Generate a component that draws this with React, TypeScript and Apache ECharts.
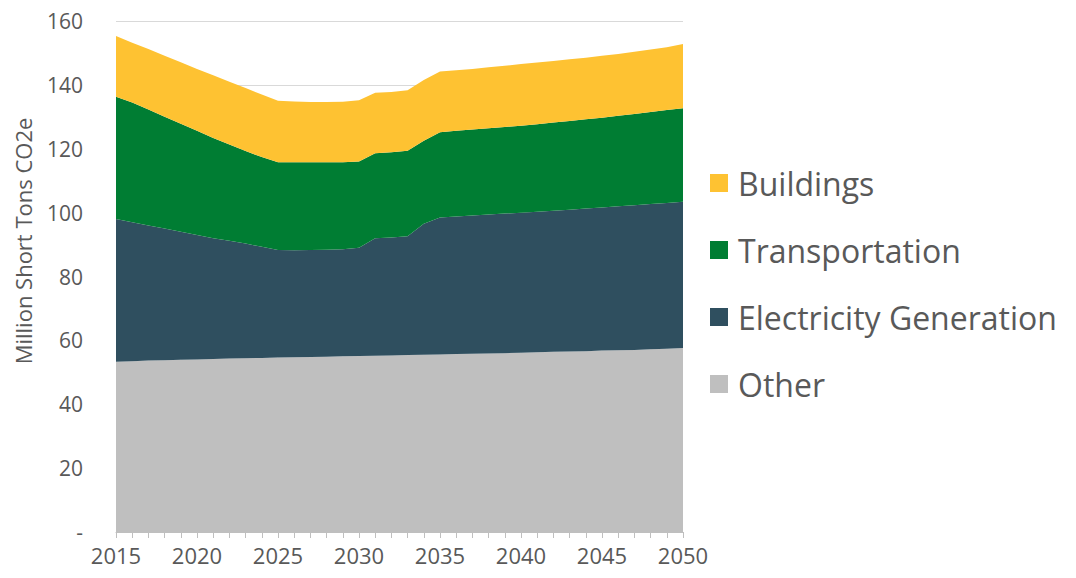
import React, { useEffect, useRef } from "react";
import * as echarts from "echarts";

const years = [
  "2015", "2016", "2017", "2018", "2019", "2020", "2021", "2022", "2023", "2024",
  "2025", "2026", "2027", "2028", "2029", "2030", "2031", "2032", "2033", "2034",
  "2035", "2036", "2037", "2038", "2039", "2040", "2041", "2042", "2043", "2044",
  "2045", "2046", "2047", "2048", "2049", "2050",
];

const other = [
  53.3, 53.5, 53.7, 53.8, 53.9, 54.0, 54.2, 54.3, 54.4, 54.5,
  54.6, 54.7, 54.8, 54.9, 55.0, 55.1, 55.2, 55.3, 55.4, 55.5,
  55.6, 55.7, 55.8, 55.9, 56.0, 56.1, 56.3, 56.4, 56.5, 56.6,
  56.8, 56.9, 57.0, 57.2, 57.4, 57.6,
];

const electricity = [
  44.7, 43.5, 42.3, 41.2, 40.1, 39.0, 37.8, 36.9, 35.9, 34.8,
  33.7, 33.5, 33.5, 33.5, 33.5, 33.9, 36.8, 36.9, 37.2, 41.0,
  42.9, 43.1, 43.3, 43.5, 43.7, 43.9, 44.0, 44.2, 44.4, 44.7,
  44.8, 45.1, 45.3, 45.5, 45.6, 45.8,
];

const transportation = [
  38.3, 37.5, 36.3, 35.0, 33.8, 32.6, 31.4, 30.1, 29.0, 28.1,
  27.5, 27.6, 27.5, 27.4, 27.3, 27.0, 26.6, 26.7, 26.8, 26.0,
  26.7, 26.8, 26.9, 27.0, 27.1, 27.2, 27.4, 27.6, 27.8, 27.9,
  28.1, 28.3, 28.6, 28.8, 29.1, 29.3,
];

const buildings = [
  19.0, 18.7, 18.9, 19.1, 19.3, 19.4, 19.6, 19.7, 19.7, 19.6,
  19.2, 19.0, 18.8, 18.8, 18.9, 19.2, 18.9, 18.9, 18.9, 19.0,
  19.0, 19.0, 19.0, 19.1, 19.2, 19.3, 19.3, 19.3, 19.3, 19.3,
  19.4, 19.4, 19.5, 19.6, 19.7, 20.1,
];

const legendOrder = ["Buildings", "Transportation", "Electricity Generation", "Other"];

const FONT = "'Open Sans', sans-serif";
const TEXT = "#595959";

export default function App() {
  const ref = useRef<HTMLDivElement>(null);

  useEffect(() => {
    if (!ref.current) return;
    const chart = echarts.init(ref.current, null, { renderer: "svg" });
    const mk = (name: string, data: number[], color: string) => ({
      name,
      type: "line",
      stack: "total",
      data,
      showSymbol: false,
      symbol: "none",
      lineStyle: { width: 0, color },
      itemStyle: { color },
      areaStyle: { color, opacity: 1 },
    });
    chart.setOption({
      animation: false,
      textStyle: { fontFamily: FONT },
      grid: { left: 108, right: 385, top: 13, bottom: 38, containLabel: false },
      legend: {
        data: legendOrder,
        orient: "vertical",
        left: 697,
        top: 154,
        itemWidth: 18,
        itemHeight: 18,
        itemGap: 35,
        icon: "rect",
        textStyle: { fontFamily: FONT, fontSize: 32, color: TEXT, padding: [0, 0, 0, 5] },
      },
      xAxis: {
        type: "category",
        data: years,
        boundaryGap: false,
        axisLine: { lineStyle: { color: "#bfbfbf", width: 1 } },
        axisTick: { show: true, interval: 0, length: 6, lineStyle: { color: "#bfbfbf" } },
        axisLabel: {
          interval: 4,
          fontFamily: FONT,
          fontSize: 22,
          color: TEXT,
          margin: 12,
        },
        splitLine: { show: false },
      },
      yAxis: {
        type: "value",
        min: 0,
        max: 160,
        interval: 20,
        axisLine: { show: false },
        axisTick: { show: false },
        axisLabel: {
          fontFamily: FONT,
          fontSize: 21,
          color: TEXT,
          margin: 33,
          formatter: (v: number) => (v === 0 ? "-" : String(v)),
        },
        splitLine: { lineStyle: { color: "#d9d9d9", width: 1 } },
      },
      graphic: [
        {
          type: "text",
          x: 15,
          y: 233,
          rotation: Math.PI / 2,
          style: {
            text: "Million Short Tons CO2e",
            fontFamily: FONT,
            fontSize: 22,
            fill: TEXT,
            align: "center",
            verticalAlign: "middle",
          },
        },
      ],
      series: [
        mk("Other", other, "#bfbfbf"),
        mk("Electricity Generation", electricity, "#2f4f5f"),
        mk("Transportation", transportation, "#007d33"),
        mk("Buildings", buildings, "#fec232"),
      ],
    });
    return () => chart.dispose();
  }, []);

  return <div ref={ref} style={{ width: 1060, height: 562 }} />;
}
